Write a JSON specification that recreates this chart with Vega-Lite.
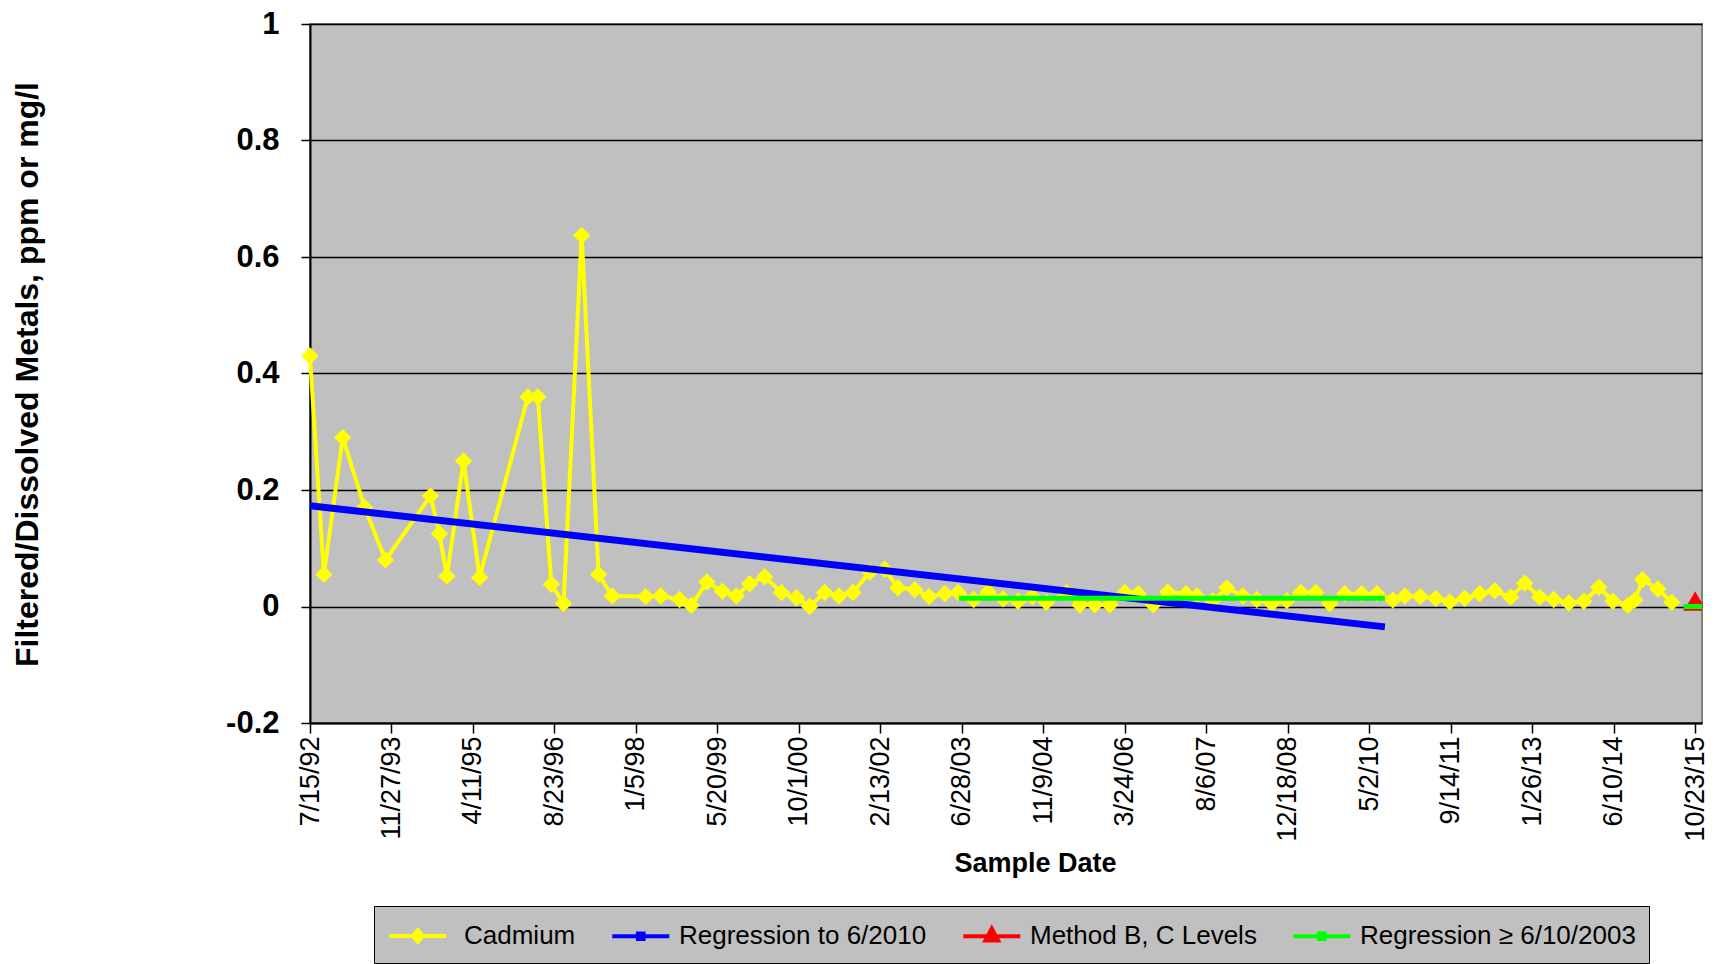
{
  "$schema": "https://vega.github.io/schema/vega-lite/v6.json",
  "width": 1392,
  "height": 699,
  "autosize": {"type": "none"},
  "padding": {"left": 310, "top": 24, "right": 15, "bottom": 241},
  "background": "#ffffff",
  "config": {
    "view": {"fill": "#c0c0c0", "stroke": "#808080", "strokeWidth": 2},
    "font": "Liberation Sans"
  },
  "data": {
    "values": [
      {"s": "Cadmium", "d": "1992-07-15", "v": 0.43},
      {"s": "Cadmium", "d": "1992-10-08", "v": 0.055},
      {"s": "Cadmium", "d": "1993-02-01", "v": 0.29},
      {"s": "Cadmium", "d": "1993-06-15", "v": 0.17},
      {"s": "Cadmium", "d": "1993-10-21", "v": 0.08},
      {"s": "Cadmium", "d": "1994-07-25", "v": 0.19},
      {"s": "Cadmium", "d": "1994-09-17", "v": 0.125},
      {"s": "Cadmium", "d": "1994-11-02", "v": 0.052},
      {"s": "Cadmium", "d": "1995-02-12", "v": 0.25},
      {"s": "Cadmium", "d": "1995-05-22", "v": 0.05},
      {"s": "Cadmium", "d": "1996-03-13", "v": 0.36},
      {"s": "Cadmium", "d": "1996-05-13", "v": 0.36},
      {"s": "Cadmium", "d": "1996-08-04", "v": 0.038},
      {"s": "Cadmium", "d": "1996-10-18", "v": 0.005},
      {"s": "Cadmium", "d": "1997-02-06", "v": 0.637},
      {"s": "Cadmium", "d": "1997-05-21", "v": 0.055},
      {"s": "Cadmium", "d": "1997-08-13", "v": 0.018},
      {"s": "Cadmium", "d": "1998-03-06", "v": 0.017},
      {"s": "Cadmium", "d": "1998-06-06", "v": 0.018},
      {"s": "Cadmium", "d": "1998-09-30", "v": 0.012},
      {"s": "Cadmium", "d": "1998-12-11", "v": 0.002},
      {"s": "Cadmium", "d": "1999-03-17", "v": 0.042},
      {"s": "Cadmium", "d": "1999-06-19", "v": 0.026},
      {"s": "Cadmium", "d": "1999-09-13", "v": 0.018},
      {"s": "Cadmium", "d": "1999-12-04", "v": 0.039},
      {"s": "Cadmium", "d": "2000-03-05", "v": 0.051},
      {"s": "Cadmium", "d": "2000-06-16", "v": 0.024},
      {"s": "Cadmium", "d": "2000-09-16", "v": 0.015},
      {"s": "Cadmium", "d": "2000-12-06", "v": 0.0},
      {"s": "Cadmium", "d": "2001-03-08", "v": 0.024},
      {"s": "Cadmium", "d": "2001-06-04", "v": 0.018},
      {"s": "Cadmium", "d": "2001-08-29", "v": 0.024},
      {"s": "Cadmium", "d": "2001-12-10", "v": 0.059},
      {"s": "Cadmium", "d": "2002-03-12", "v": 0.064},
      {"s": "Cadmium", "d": "2002-06-01", "v": 0.032},
      {"s": "Cadmium", "d": "2002-09-12", "v": 0.029},
      {"s": "Cadmium", "d": "2002-12-09", "v": 0.017},
      {"s": "Cadmium", "d": "2003-03-15", "v": 0.022},
      {"s": "Cadmium", "d": "2003-06-05", "v": 0.024},
      {"s": "Cadmium", "d": "2003-09-09", "v": 0.012},
      {"s": "Cadmium", "d": "2003-12-06", "v": 0.025},
      {"s": "Cadmium", "d": "2004-03-07", "v": 0.013},
      {"s": "Cadmium", "d": "2004-06-07", "v": 0.009},
      {"s": "Cadmium", "d": "2004-09-03", "v": 0.017},
      {"s": "Cadmium", "d": "2004-11-28", "v": 0.007},
      {"s": "Cadmium", "d": "2005-03-31", "v": 0.024},
      {"s": "Cadmium", "d": "2005-06-21", "v": 0.003},
      {"s": "Cadmium", "d": "2005-09-21", "v": 0.003},
      {"s": "Cadmium", "d": "2005-12-22", "v": 0.003},
      {"s": "Cadmium", "d": "2006-03-24", "v": 0.024},
      {"s": "Cadmium", "d": "2006-06-14", "v": 0.022},
      {"s": "Cadmium", "d": "2006-09-14", "v": 0.003},
      {"s": "Cadmium", "d": "2006-12-13", "v": 0.025},
      {"s": "Cadmium", "d": "2007-04-03", "v": 0.022},
      {"s": "Cadmium", "d": "2007-06-09", "v": 0.018},
      {"s": "Cadmium", "d": "2007-09-15", "v": 0.01},
      {"s": "Cadmium", "d": "2007-12-10", "v": 0.032},
      {"s": "Cadmium", "d": "2008-03-17", "v": 0.018},
      {"s": "Cadmium", "d": "2008-06-11", "v": 0.012},
      {"s": "Cadmium", "d": "2008-09-11", "v": 0.005},
      {"s": "Cadmium", "d": "2008-12-12", "v": 0.01},
      {"s": "Cadmium", "d": "2009-03-08", "v": 0.024},
      {"s": "Cadmium", "d": "2009-06-08", "v": 0.024},
      {"s": "Cadmium", "d": "2009-09-02", "v": 0.005},
      {"s": "Cadmium", "d": "2009-12-03", "v": 0.022},
      {"s": "Cadmium", "d": "2010-03-16", "v": 0.022},
      {"s": "Cadmium", "d": "2010-06-18", "v": 0.022},
      {"s": "Cadmium", "d": "2010-09-24", "v": 0.011},
      {"s": "Cadmium", "d": "2010-12-07", "v": 0.018},
      {"s": "Cadmium", "d": "2011-03-11", "v": 0.017},
      {"s": "Cadmium", "d": "2011-06-14", "v": 0.014},
      {"s": "Cadmium", "d": "2011-09-08", "v": 0.008},
      {"s": "Cadmium", "d": "2011-12-09", "v": 0.014},
      {"s": "Cadmium", "d": "2012-03-10", "v": 0.022},
      {"s": "Cadmium", "d": "2012-06-10", "v": 0.027},
      {"s": "Cadmium", "d": "2012-09-16", "v": 0.016},
      {"s": "Cadmium", "d": "2012-12-11", "v": 0.04},
      {"s": "Cadmium", "d": "2013-03-13", "v": 0.016},
      {"s": "Cadmium", "d": "2013-06-07", "v": 0.012},
      {"s": "Cadmium", "d": "2013-09-08", "v": 0.006},
      {"s": "Cadmium", "d": "2013-12-09", "v": 0.009},
      {"s": "Cadmium", "d": "2014-03-11", "v": 0.033},
      {"s": "Cadmium", "d": "2014-06-05", "v": 0.009},
      {"s": "Cadmium", "d": "2014-09-05", "v": 0.002},
      {"s": "Cadmium", "d": "2014-10-18", "v": 0.011},
      {"s": "Cadmium", "d": "2014-12-04", "v": 0.046},
      {"s": "Cadmium", "d": "2015-03-08", "v": 0.03},
      {"s": "Cadmium", "d": "2015-06-02", "v": 0.007},
      {"s": "Regression to 6/2010", "d": "1992-07-15", "v": 0.173},
      {"s": "Regression to 6/2010", "d": "2010-08-06", "v": -0.035},
      {"s": "Method B, C Levels", "d": "2015-08-13", "v": -0.003, "g": "line"},
      {"s": "Method B, C Levels", "d": "2015-12-04", "v": -0.003, "g": "line"},
      {"s": "Method B, C Levels", "d": "2015-10-23", "v": 0.014, "g": "pt"},
      {"s": "Regression ≥ 6/10/2003", "d": "2003-06-10", "v": 0.014, "g": "a"},
      {"s": "Regression ≥ 6/10/2003", "d": "2010-08-06", "v": 0.014, "g": "a"},
      {"s": "Regression ≥ 6/10/2003", "d": "2015-08-13", "v": 0.0, "g": "b"},
      {"s": "Regression ≥ 6/10/2003", "d": "2015-12-04", "v": 0.0, "g": "b"}
    ]
  },
  "encoding": {
    "x": {
      "field": "d", "type": "temporal",
      "scale": {"type": "utc", "nice": false, "domain": [{"year": 1992, "month": 7, "date": 15, "utc": true}, {"year": 2015, "month": 12, "date": 4, "utc": true}]},
      "axis": {
        "values": [
          {"year": 1992, "month": 7, "date": 15, "utc": true},
          {"year": 1993, "month": 11, "date": 27, "utc": true},
          {"year": 1995, "month": 4, "date": 11, "utc": true},
          {"year": 1996, "month": 8, "date": 23, "utc": true},
          {"year": 1998, "month": 1, "date": 5, "utc": true},
          {"year": 1999, "month": 5, "date": 20, "utc": true},
          {"year": 2000, "month": 10, "date": 1, "utc": true},
          {"year": 2002, "month": 2, "date": 13, "utc": true},
          {"year": 2003, "month": 6, "date": 28, "utc": true},
          {"year": 2004, "month": 11, "date": 9, "utc": true},
          {"year": 2006, "month": 3, "date": 24, "utc": true},
          {"year": 2007, "month": 8, "date": 6, "utc": true},
          {"year": 2008, "month": 12, "date": 18, "utc": true},
          {"year": 2010, "month": 5, "date": 2, "utc": true},
          {"year": 2011, "month": 9, "date": 14, "utc": true},
          {"year": 2013, "month": 1, "date": 26, "utc": true},
          {"year": 2014, "month": 6, "date": 10, "utc": true},
          {"year": 2015, "month": 10, "date": 23, "utc": true}
        ],
        "labelExpr": "utcFormat(datum.value, '%-m/%-d/%y')",
        "labelAngle": 270, "labelAlign": "right", "labelBaseline": "middle",
        "labelFont": "Liberation Sans", "labelFontSize": 27, "labelColor": "#000000",
        "labelPadding": 3, "labelOverlap": false, "labelFlush": false, "labelBound": false,
        "grid": false, "domainColor": "#000000", "domainWidth": 2,
        "tickColor": "#000000", "tickWidth": 1.5, "tickSize": 10,
        "title": "Sample Date", "titleFont": "Liberation Sans", "titleFontSize": 27, "titleFontWeight": "bold", "titleColor": "#000000",
        "titleX": 725, "titleY": 140, "titleBaseline": "middle", "titleAlign": "center"
      }
    },
    "y": {
      "field": "v", "type": "quantitative",
      "scale": {"domain": [-0.2, 1], "nice": false, "zero": false},
      "axis": {
        "values": [-0.2, 0, 0.2, 0.4, 0.6, 0.8, 1],
        "labelExpr": "datum.value < -0.0001 ? '-' + format(-datum.value, '.1~f') : format(datum.value, '.1~f')",
        "grid": true, "gridColor": "#000000", "gridWidth": 1.5, "gridOpacity": 1,
        "domainColor": "#000000", "domainWidth": 2,
        "tickColor": "#000000", "tickWidth": 1.5, "tickSize": 9,
        "labelFont": "Liberation Sans", "labelFontWeight": "bold", "labelFontSize": 31, "labelColor": "#000000", "labelPadding": 22,
        "title": "Filtered/Dissolved Metals, ppm or mg/l", "titleFont": "Liberation Sans", "titleFontSize": 32, "titleFontWeight": "bold", "titleColor": "#000000",
        "titleAngle": 270, "titleX": -283, "titleY": 350, "titleBaseline": "middle", "titleAlign": "center"
      }
    },
    "color": {
      "field": "s", "type": "nominal",
      "scale": {"domain": ["Cadmium", "Regression to 6/2010", "Method B, C Levels", "Regression ≥ 6/10/2003"], "range": ["#ffff00", "#0000ff", "#ff0000", "#00ff00"]},
      "legend": {
        "orient": "none", "legendX": 64, "legendY": 882, "direction": "horizontal", "columns": 4, "title": null,
        "fillColor": "#c0c0c0", "strokeColor": "#000000", "padding": 13,
        "columnPadding": 28, "labelOffset": 36, "labelLimit": 400,
        "labelExpr": "datum.label == 'Cadmium' ? '  Cadmium' : datum.label",
        "labelFont": "Liberation Sans", "labelFontSize": 26, "labelColor": "#000000",
        "symbolSize": 812, "symbolStrokeWidth": 4,
        "encode": {
          "labels": {
            "update": {
              "dx": {"signal": "datum.value == 'Cadmium' ? 8 : 0"}
            }
          },
          "symbols": {
            "update": {
              "shape": {"signal": "datum.value == 'Cadmium' ? 'M-1,0H3M1,-0.4L1.35,0L1,0.4L0.65,0Z' : datum.value == 'Method B, C Levels' ? 'M-1,0H3M1,-0.55L1.45,0.3L0.55,0.3Z' : 'M-1,0H3M0.8,-0.2H1.2V0.2H0.8Z'"},
              "fill": {"scale": "color", "field": "value"},
              "stroke": {"scale": "color", "field": "value"},
              "opacity": {"value": 1}
            }
          }
        }
      }
    }
  },
  "layer": [
    {
      "transform": [{"filter": "datum.s == 'Cadmium'"}],
      "mark": {"type": "line", "strokeWidth": 4, "strokeJoin": "round"}
    },
    {
      "transform": [{"filter": "datum.s == 'Cadmium'"}],
      "mark": {"type": "point", "shape": "diamond", "filled": true, "size": 300, "opacity": 1}
    },
    {
      "transform": [{"filter": "datum.s == 'Regression to 6/2010'"}],
      "mark": {"type": "line", "strokeWidth": 7}
    },
    {
      "transform": [{"filter": "datum.s == 'Method B, C Levels' && datum.g == 'line'"}],
      "mark": {"type": "line", "strokeWidth": 5}
    },
    {
      "transform": [{"filter": "datum.s == 'Method B, C Levels' && datum.g == 'pt'"}],
      "mark": {"type": "point", "shape": "triangle-up", "filled": true, "size": 260, "opacity": 1}
    },
    {
      "transform": [{"filter": "datum.s == 'Regression ≥ 6/10/2003'"}],
      "mark": {"type": "line", "strokeWidth": 5},
      "encoding": {"detail": {"field": "g"}}
    }
  ]
}
